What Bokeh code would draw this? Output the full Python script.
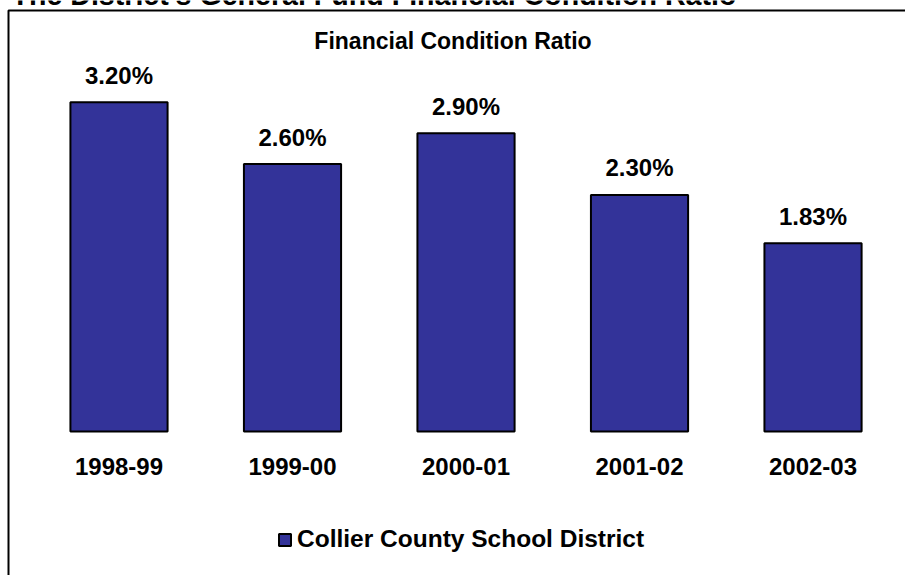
from bokeh.plotting import figure
from bokeh.models import Range1d, Label, BoxAnnotation, Legend, LegendItem, ColumnDataSource
from bokeh.core.properties import value
from bokeh.embed import file_html
from bokeh.resources import INLINE

page_title = "The District's General Fund Financial Condition Ratio"
chart_title = "Financial Condition Ratio"
series_name = "Collier County School District"
categories = ["1998-99", "1999-00", "2000-01", "2001-02", "2002-03"]
ratios = [3.20, 2.60, 2.90, 2.30, 1.83]
ratio_labels = ["3.20%", "2.60%", "2.90%", "2.30%", "1.83%"]

FONT_NAME = "'Liberation Sans', Arial, sans-serif"
FONT = value(FONT_NAME)
W, H = 905, 575

xs = list(range(len(categories)))
src = ColumnDataSource(dict(x=xs, top=ratios, lab=ratio_labels, cat=categories,
                            zero=[0] * len(xs)))

p = figure(width=W, height=H, output_backend="svg", toolbar_location=None,
           x_range=Range1d(-0.683, 4.533), y_range=Range1d(-1.40, 4.19),
           min_border=0, min_border_left=0, min_border_right=0,
           min_border_top=0, min_border_bottom=0)
p.axis.visible = False
p.grid.visible = False
p.outline_line_color = None
p.background_fill_color = "white"
p.border_fill_color = "white"

bars = p.vbar(x="x", top="top", bottom=0, width=0.56, source=src,
              fill_color="#333399", line_color="black", line_width=2)

p.text(x="x", y="top", text="lab", source=src, text_align="center",
       text_baseline="alphabetic", y_offset=-27, text_font=FONT,
       text_font_style="bold", text_font_size="24px", text_color="black")

p.text(x="x", y="zero", text="cat", source=src, text_align="center",
       text_baseline="alphabetic", y_offset=35, text_font=FONT,
       text_font_style="bold", text_font_size="24px", text_color="black")

p.add_layout(BoxAnnotation(left=8, right=W + 20, top=H - 10, bottom=-20,
                           left_units="screen", right_units="screen",
                           top_units="screen", bottom_units="screen",
                           fill_alpha=0, line_color="black", line_alpha=1.0,
                           line_width=2))

p.add_layout(Label(x=11, y=H + 6, x_units="screen", y_units="screen",
                   text=page_title, text_font=FONT_NAME, text_color="black",
                   text_font_style="bold", text_font_size="28.6px",
                   text_baseline="alphabetic"))

p.add_layout(Label(x=452.5, y=H - 40, x_units="screen", y_units="screen",
                   text=chart_title, text_font=FONT_NAME, text_color="black",
                   text_font_style="bold", text_font_size="23px",
                   text_align="center", text_baseline="alphabetic"))

legend = Legend(items=[LegendItem(label=series_name, renderers=[bars])],
                location=(277, 22), orientation="horizontal",
                border_line_color=None, background_fill_alpha=0,
                glyph_width=15, glyph_height=15, label_standoff=5,
                padding=0, margin=0, spacing=0,
                label_text_font=FONT_NAME, label_text_color="black",
                label_text_font_style="bold", label_text_font_size="24.5px",
                label_text_baseline="middle")
p.add_layout(legend, "center")

open("out.html", "w").write(file_html(p, INLINE))
